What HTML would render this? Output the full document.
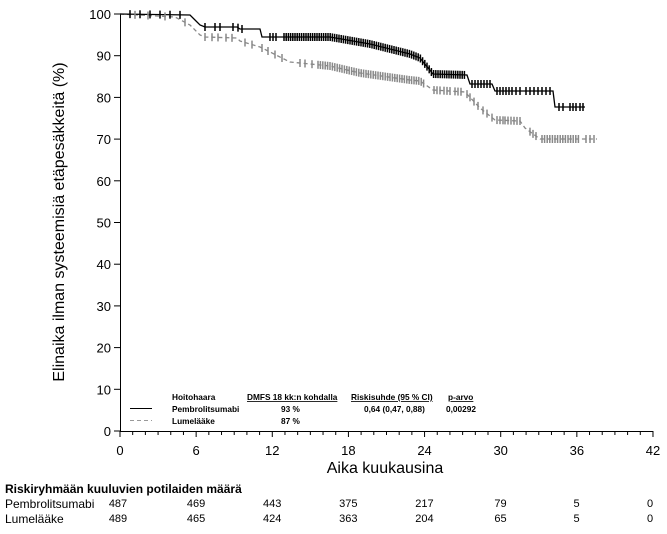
<!DOCTYPE html>
<html><head><meta charset="utf-8"><style>
body{margin:0;background:#fff;width:667px;height:534px;overflow:hidden}
svg{display:block;font-family:"Liberation Sans",Arial,sans-serif}
</style></head><body>
<svg id="s" width="667" height="534" xmlns="http://www.w3.org/2000/svg">
<g stroke="#000" stroke-width="1" fill="none">
<line x1="120.5" y1="14" x2="120.5" y2="431"/>
<line x1="120" y1="431.5" x2="653" y2="431.5"/>
</g>
<g id="ticks" stroke="#000" stroke-width="1"></g>
<g font-size="13" fill="#000" text-anchor="end" id="ylab"></g>
<g font-size="13" fill="#000" text-anchor="middle" id="xlab"></g>
<text x="385" y="473" font-size="16" text-anchor="middle">Aika kuukausina</text>
<text transform="translate(64,222) rotate(-90)" font-size="16" text-anchor="middle">Elinaika ilman systeemisiä etäpesäkkeitä (%)</text>

<polyline fill="none" stroke="#888" stroke-width="1.3" stroke-dasharray="4,3" points="120,14 175,17 190,25 200,35 205,37 237,38 240,41 260,47 290,62 330,66 360,73 410,80 420,81 433,90 465,92 480,108 495,120 520,121 525,128 540,139 597,139"/>
<polyline fill="none" stroke="#000" stroke-width="1.3" points="120,14 190,15 195,20 200,25 205,27 237,27 240,29 260,29 262,37 330,37 370,44 410,54 420,58 433,74 467,75 470,84 492,84 495,91 553,91 555,107 585,107"/>
<g id="cens"></g>

<g font-size="8.3" font-weight="bold" fill="#000">
<text x="172" y="400">Hoitohaara</text>
<text x="247" y="400" text-decoration="underline">DMFS 18  kk:n kohdalla</text>
<text x="351" y="400" text-decoration="underline">Riskisuhde (95  % CI)</text>
<text x="448" y="400" text-decoration="underline">p-arvo</text>
<text x="172" y="412">Pembrolitsumabi</text>
<text x="281" y="412">93  %</text>
<text x="364" y="412">0,64 (0,47, 0,88)</text>
<text x="446" y="412">0,00292</text>
<text x="172" y="424">Lumelääke</text>
<text x="281" y="424">87  %</text>
</g>
<line x1="130" y1="408.5" x2="152" y2="408.5" stroke="#000" stroke-width="1"/>
<line x1="130" y1="420.5" x2="152" y2="420.5" stroke="#999" stroke-width="1" stroke-dasharray="4,3"/>

<text x="5" y="493" font-size="12" font-weight="bold">Riskiryhmään kuuluvien potilaiden määrä</text>
<g font-size="12" fill="#000">
<text x="5" y="508">Pembrolitsumabi</text>
<text x="5" y="523">Lumelääke</text>
</g>
<g font-size="11" fill="#000" text-anchor="middle" id="risk"></g>
</svg>
<script>
var NS="http://www.w3.org/2000/svg";
function el(p,t,a,txt){var e=document.createElementNS(NS,t);for(var k in a)e.setAttribute(k,a[k]);if(txt!=null)e.textContent=txt;document.getElementById(p).appendChild(e);}
for(var v=0;v<=100;v+=10){var y=431-4.17*v;el("ticks","line",{x1:114,x2:120,y1:y,y2:y});el("ylab","text",{x:111,y:y+5},v);}
for(var t=0;t<=42;t++){var x=120+12.69*t;el("ticks","line",{x1:x,x2:x,y1:431,y2:t%6?435:437});}
for(var t=0;t<=42;t+=6){el("xlab","text",{x:120+12.69*t,y:455},t);}
var r1=[487,469,443,375,217,79,5,0],r2=[489,465,424,363,204,65,5,0];
for(var i=0;i<8;i++){var x=120+76.1*i+(i==0?-2:0);if(i==7)x=650;el("risk","text",{x:x,y:507},r1[i]);el("risk","text",{x:x,y:522},r2[i]);}
function interp(pts,x){for(var i=1;i<pts.length;i++){if(x<=pts[i][0]){var a=pts[i-1],b=pts[i];return a[1]+(b[1]-a[1])*(x-a[0])/(b[0]-a[0]||1);}}return pts[pts.length-1][1];}
var blk=[[120,14],[190,15],[195,20],[200,25],[205,27],[237,27],[240,29],[260,29],[262,37],[330,37],[370,44],[410,54],[420,58],[433,74],[467,75],[470,84],[492,84],[495,91],[553,91],[555,107],[585,107]];
var gry=[[120,14],[175,17],[190,25],[200,35],[205,37],[237,38],[240,41],[260,47],[290,62],[330,66],[360,73],[410,80],[420,81],[433,90],[465,92],[480,108],[495,120],[520,121],[525,128],[540,139],[597,139]];
function cens(pts,col,xs,w){xs.forEach(function(x){var y=interp(pts,x);el("cens","line",{x1:x,x2:x,y1:y-4,y2:y+4,stroke:col,"stroke-width":w});});}
var bx=[130,140,150,160,170,180,205,215,220,233,238,242,270,273,276];
for(var x=284;x<=465;x+=2.2)bx.push(x);
[472,475,478,481,484,487,490,497,500,503,506,509,512,516,520,526,530,534,538,542,546,550,559,563,570,573,576,580,583].forEach(function(x){bx.push(x)});
var gx=[135,148,165,185,205,212,218,226,232,245,252,262,268,275,282,300,305,312];
for(var x=318;x<=425;x+=2.4)gx.push(x);
[434,437,440,444,447,450,455,458,461,467,470,474,478,483,487,492,497,500,503,505,508,511,514,517,520,530,533,536].forEach(function(x){gx.push(x)});
for(var x=542;x<=580;x+=2.6)gx.push(x);[586,590,594].forEach(function(x){gx.push(x)});
cens(gry,"#888",gx,1.5);cens(blk,"#000",bx,1.5);
</script>
</body></html>
